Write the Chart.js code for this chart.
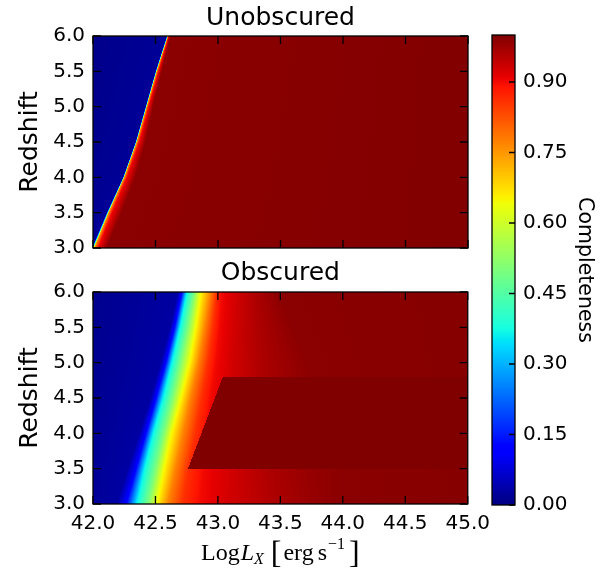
<!DOCTYPE html>
<html>
<head>
<meta charset="utf-8">
<script src="https://cdn.jsdelivr.net/npm/chart.js@4.4.1/dist/chart.umd.min.js"></script>
<style>
  body { margin: 0; background: #fff; }
  #wrap { position: relative; width: 602px; height: 572px; }
  canvas { position: absolute; }
</style>
</head>
<body>
<div id="wrap">
  <canvas id="topChart" width="480" height="268" style="left:0;top:0"></canvas>
  <canvas id="bottomChart" width="498" height="320" style="left:0;top:252px"></canvas>
  <canvas id="barChart" width="132" height="572" style="left:470px;top:0"></canvas>
</div>
<script>
// tick labels
const lxTicks = [42.0, 42.5, 43.0, 43.5, 44.0, 44.5, 45.0];
const zTicks = [3.0, 3.5, 4.0, 4.5, 5.0, 5.5, 6.0];
const cbTicks = [0.00, 0.15, 0.30, 0.45, 0.60, 0.75, 0.90];

const zKnots = [3.0, 3.5, 4.0, 4.5, 5.0, 5.5, 6.0];

// Unobscured: Log Lx where completeness reaches each level
const unobsLevels = [0.02, 0.75, 0.90, 0.99];
const unobsLx02 = [41.99, 42.11, 42.24, 42.34, 42.42, 42.50, 42.59];
const unobsLx75 = [42.01, 42.125, 42.25, 42.35, 42.43, 42.51, 42.60];
const unobsLx90 = [42.04, 42.15, 42.27, 42.37, 42.445, 42.525, 42.605];
const unobsLx99 = [42.11, 42.23, 42.34, 42.42, 42.48, 42.55, 42.62];

// Obscured: Log Lx where completeness reaches each level
const obsLevels = [0.03, 0.11, 0.36, 0.50, 0.64, 0.77, 0.86, 0.90, 0.93, 0.96, 0.98, 0.99];
const obsLx03 = [42.19, 42.275, 42.37, 42.46, 42.54, 42.615, 42.68];
const obsLx11 = [42.26, 42.34, 42.42, 42.50, 42.58, 42.65, 42.71];
const obsLx36 = [42.35, 42.41, 42.48, 42.56, 42.63, 42.695, 42.75];
const obsLx50 = [42.44, 42.50, 42.565, 42.635, 42.70, 42.76, 42.81];
const obsLx64 = [42.51, 42.565, 42.625, 42.70, 42.77, 42.82, 42.86];
const obsLx77 = [42.60, 42.66, 42.72, 42.78, 42.845, 42.895, 42.94];
const obsLx86 = [42.72, 42.76, 42.82, 42.87, 42.92, 42.96, 42.99];
const obsLx90 = [42.86, 42.88, 42.91, 42.94, 42.98, 43.01, 43.03];
const obsLx93 = [43.10, 43.11, 43.12, 43.12, 43.12, 43.13, 43.15];
const obsLx96 = [43.45, 43.40, 43.36, 43.35, 43.34, 43.32, 43.30];
const obsLx98 = [43.75, 43.72, 43.68, 43.62, 43.58, 43.50, 43.42];
const obsLx99 = [43.98, 43.98, 43.90, 43.80, 43.72, 43.60, 43.47];
const obsRightValue = 0.996;

// the darker block in the obscured panel (z from 3.5 to 4.8)
const obsBlockZ = [3.5, 4.8];
const obsBlockEdgeLx = [42.76, 43.04];
const obsBlockValue = 1.0;

const unobsPanel = {
  levels: unobsLevels,
  contours: [unobsLx02, unobsLx75, unobsLx90, unobsLx99],
  left: 0, right: 1.0
};
const obsPanel = {
  levels: obsLevels,
  contours: [obsLx03, obsLx11, obsLx36, obsLx50, obsLx64, obsLx77, obsLx86, obsLx90, obsLx93, obsLx96, obsLx98, obsLx99],
  left: 0, right: obsRightValue,
  block: { z: obsBlockZ, edge: obsBlockEdgeLx, value: obsBlockValue }
};

// matplotlib jet colormap
const jetR = [[0, 0], [0.35, 0], [0.66, 1], [0.89, 1], [1, 0.5]];
const jetG = [[0, 0], [0.125, 0], [0.375, 1], [0.64, 1], [0.91, 0], [1, 0]];
const jetB = [[0, 0.5], [0.11, 1], [0.34, 1], [0.65, 0], [1, 0]];
const jetBreaks = [0.11, 0.125, 0.34, 0.35, 0.375, 0.64, 0.65, 0.66, 0.89, 0.91];

function seg(tab, v) {
  for (let i = 1; i < tab.length; i++) {
    if (v <= tab[i][0]) {
      const t = (v - tab[i - 1][0]) / (tab[i][0] - tab[i - 1][0]);
      return tab[i - 1][1] + t * (tab[i][1] - tab[i - 1][1]);
    }
  }
  return tab[tab.length - 1][1];
}
function jet(v) {
  v = Math.min(1, Math.max(0, v));
  return 'rgb(' + Math.round(seg(jetR, v) * 255) + ',' + Math.round(seg(jetG, v) * 255) + ',' + Math.round(seg(jetB, v) * 255) + ')';
}

// position of a contour line at redshift z (straight pieces between read points)
function along(zs, vals, z) {
  if (z <= zs[0]) return vals[0];
  for (let i = 1; i < zs.length; i++) {
    if (z <= zs[i]) {
      const t = (z - zs[i - 1]) / (zs[i] - zs[i - 1]);
      return vals[i - 1] + t * (vals[i] - vals[i - 1]);
    }
  }
  return vals[vals.length - 1];
}

const LX_LO = 41.5, LX_HI = 45.5;

function rowKnots(p, z) {
  const pts = [[LX_LO, p.left]];
  p.contours.forEach((lx, i) => {
    const v = Math.max(along(zKnots, lx, z), pts[pts.length - 1][0]);
    pts.push([v, p.levels[i]]);
  });
  pts.push([LX_HI, p.right]);
  if (p.block && z >= p.block.z[0] && z < p.block.z[1]) {
    const e = along(p.block.z, p.block.edge, z);
    const cut = [];
    for (let i = 0; i < pts.length; i++) {
      if (pts[i][0] < e) { cut.push(pts[i]); continue; }
      const a = pts[i - 1], b = pts[i];
      const t = b[0] > a[0] ? (e - a[0]) / (b[0] - a[0]) : 0;
      cut.push([e, a[1] + t * (b[1] - a[1])]);
      break;
    }
    cut.push([e, p.block.value], [LX_HI, p.block.value]);
    return cut;
  }
  return pts;
}

// adds colour stops for a run of (position, value) knots
function addStops(grad, knots, toOffset) {
  const stop = (pos, c) => grad.addColorStop(Math.min(1, Math.max(0, toOffset(pos))), jet(c));
  stop(knots[0][0], knots[0][1]);
  for (let i = 1; i < knots.length; i++) {
    const [pa, ca] = knots[i - 1];
    const [pb, cb] = knots[i];
    if (cb !== ca) {
      const bps = ca < cb ? jetBreaks : jetBreaks.slice().reverse();
      bps.forEach(bp => {
        if ((bp - ca) * (bp - cb) < 0) stop(pa + (bp - ca) / (cb - ca) * (pb - pa), bp);
      });
    }
    stop(pb, cb);
  }
}

function makeHeatmap(panel) {
  return {
    id: 'heatmap',
    beforeDatasetsDraw(chart) {
      const { ctx, chartArea: a, scales: { x, y } } = chart;
      const g0 = x.getPixelForValue(LX_LO), g1 = x.getPixelForValue(LX_HI);
      ctx.save();
      ctx.beginPath();
      ctx.rect(a.left, a.top, a.width, a.height);
      ctx.clip();
      for (let py = Math.floor(a.top); py < Math.ceil(a.bottom); py++) {
        const z = y.getValueForPixel(py + 0.5);
        const grad = ctx.createLinearGradient(g0, 0, g1, 0);
        addStops(grad, rowKnots(panel, z), lx => (x.getPixelForValue(lx) - g0) / (g1 - g0));
        ctx.fillStyle = grad;
        ctx.fillRect(a.left, py, a.width, 1);
      }
      ctx.restore();
    }
  };
}

// black frame with inward tick marks
function makeFrame(xt, yt, len, sides) {
  return {
    id: 'frame',
    afterDatasetsDraw(chart) {
      const { ctx, chartArea: a, scales: { x, y } } = chart;
      ctx.save();
      ctx.strokeStyle = '#000';
      ctx.lineWidth = 1.3;
      ctx.beginPath();
      xt.forEach(v => {
        const px = x.getPixelForValue(v);
        ctx.moveTo(px, a.bottom); ctx.lineTo(px, a.bottom - len);
        ctx.moveTo(px, a.top); ctx.lineTo(px, a.top + len);
      });
      yt.forEach(v => {
        const py = y.getPixelForValue(v);
        if (sides.left) { ctx.moveTo(a.left, py); ctx.lineTo(a.left + len, py); }
        if (sides.right) { ctx.moveTo(a.right, py); ctx.lineTo(a.right - len, py); }
      });
      ctx.stroke();
      ctx.strokeRect(a.left, a.top, a.width, a.height);
      ctx.restore();
    }
  };
}

const FONT = 'DejaVu Sans';
Chart.defaults.font.family = FONT;
Chart.defaults.color = '#000';

function yAxis() {
  return {
    type: 'linear', min: 3, max: 6,
    afterBuildTicks: s => { s.ticks = zTicks.map(v => ({ value: v })); },
    afterFit: s => { s.width = 93; },
    grid: { display: false, drawTicks: false },
    border: { display: false },
    ticks: { font: { size: 20 }, padding: 8, callback: v => Number(v).toFixed(1) },
    title: { display: true, text: 'Redshift', font: { size: 25 }, padding: { top: 15, bottom: 0 } }
  };
}

function panelChart(id, title, panel, titlePad, showX) {
  const plugins = [makeHeatmap(panel), makeFrame(lxTicks, zTicks, 8, { left: true, right: true })];
  const xScale = {
    type: 'linear', min: 42, max: 45, display: showX,
    afterBuildTicks: s => { s.ticks = lxTicks.map(v => ({ value: v })); },
    grid: { display: false, drawTicks: false },
    border: { display: false },
    ticks: { font: { size: 20 }, padding: 8, maxRotation: 0, autoSkip: false, callback: v => Number(v).toFixed(1) }
  };
  if (showX) {
    xScale.afterFit = s => { s.height = 68; };
    plugins.push(xLabel);
  }
  return new Chart(document.getElementById(id), {
    type: 'scatter',
    data: { datasets: [{ data: [], pointRadius: 0 }] },
    options: {
      responsive: false, animation: false, events: [],
      layout: { padding: { left: 0, right: 12, top: 0, bottom: showX ? 0 : 2 } },
      plugins: {
        legend: { display: false }, tooltip: { enabled: false },
        title: { display: true, text: title, fullSize: false, font: { size: 25, weight: 'normal' }, color: '#000', padding: titlePad }
      },
      scales: { x: xScale, y: yAxis() }
    },
    plugins: plugins
  });
}

// x axis label with italic L, subscript X and superscript -1
const xLabelParts = [
  { text: 'Log', size: 24, style: '', dy: 0, gap: 1 },
  { text: 'L', size: 24, style: 'italic ', dy: 0, gap: 0 },
  { text: 'X', size: 16, style: 'italic ', dy: 4, gap: 7 },
  { text: '[', size: 32, style: '', dy: 3, gap: 2 },
  { text: 'erg', size: 24, style: '', dy: 0, gap: 4 },
  { text: 's', size: 24, style: '', dy: 0, gap: 1 },
  { text: '\u22121', size: 16, style: '', dy: -11, gap: 4 },
  { text: ']', size: 32, style: '', dy: 3, gap: 0 }
];
const xLabel = {
  id: 'xLabel',
  afterDraw(chart) {
    const { ctx, chartArea: a } = chart;
    ctx.save();
    ctx.fillStyle = '#000';
    ctx.textBaseline = 'alphabetic';
    const widths = xLabelParts.map(p => {
      ctx.font = p.style + p.size + 'px "Liberation Serif"';
      return ctx.measureText(p.text).width;
    });
    const total = widths.reduce((s, w, i) => s + w + xLabelParts[i].gap, 0);
    let cx = (a.left + a.right) / 2 - total / 2;
    const base = a.bottom + 56;
    xLabelParts.forEach((p, i) => {
      ctx.font = p.style + p.size + 'px "Liberation Serif"';
      ctx.fillText(p.text, cx, base + p.dy);
      cx += widths[i] + p.gap;
    });
    ctx.restore();
  }
};

panelChart('topChart', 'Unobscured', unobsPanel, { top: 3, bottom: 3 }, false);
panelChart('bottomChart', 'Obscured', obsPanel, { top: 6, bottom: 4 }, true);

// colour bar
const colourBar = {
  id: 'colourBar',
  beforeDatasetsDraw(chart) {
    const { ctx, chartArea: a, scales: { y } } = chart;
    const g0 = y.getPixelForValue(0), g1 = y.getPixelForValue(1);
    const grad = ctx.createLinearGradient(0, g0, 0, g1);
    addStops(grad, [[0, 0], [1, 1]], v => v);
    ctx.save();
    ctx.fillStyle = grad;
    ctx.fillRect(a.left, a.top, a.width, a.height);
    ctx.restore();
  }
};

new Chart(document.getElementById('barChart'), {
  type: 'scatter',
  data: { datasets: [{ data: [], pointRadius: 0 }] },
  options: {
    responsive: false, animation: false, events: [],
    layout: { padding: { left: 22, right: 0, top: 35, bottom: 67 } },
    plugins: { legend: { display: false }, tooltip: { enabled: false } },
    scales: {
      x: { type: 'linear', min: 0, max: 1, display: false },
      y: {
        type: 'linear', min: 0, max: 1, position: 'right',
        afterBuildTicks: s => { s.ticks = cbTicks.map(v => ({ value: v })); },
        afterFit: s => { s.width = 87; },
        grid: { display: false, drawTicks: false },
        border: { display: false },
        ticks: { font: { size: 20 }, padding: 8, callback: v => Number(v).toFixed(2) },
        title: { display: true, text: 'Completeness', font: { size: 20.5 }, padding: { top: 5, bottom: 0 } }
      }
    }
  },
  plugins: [colourBar, makeFrame([], cbTicks, 6, { left: false, right: true })]
});
</script>
</body>
</html>
